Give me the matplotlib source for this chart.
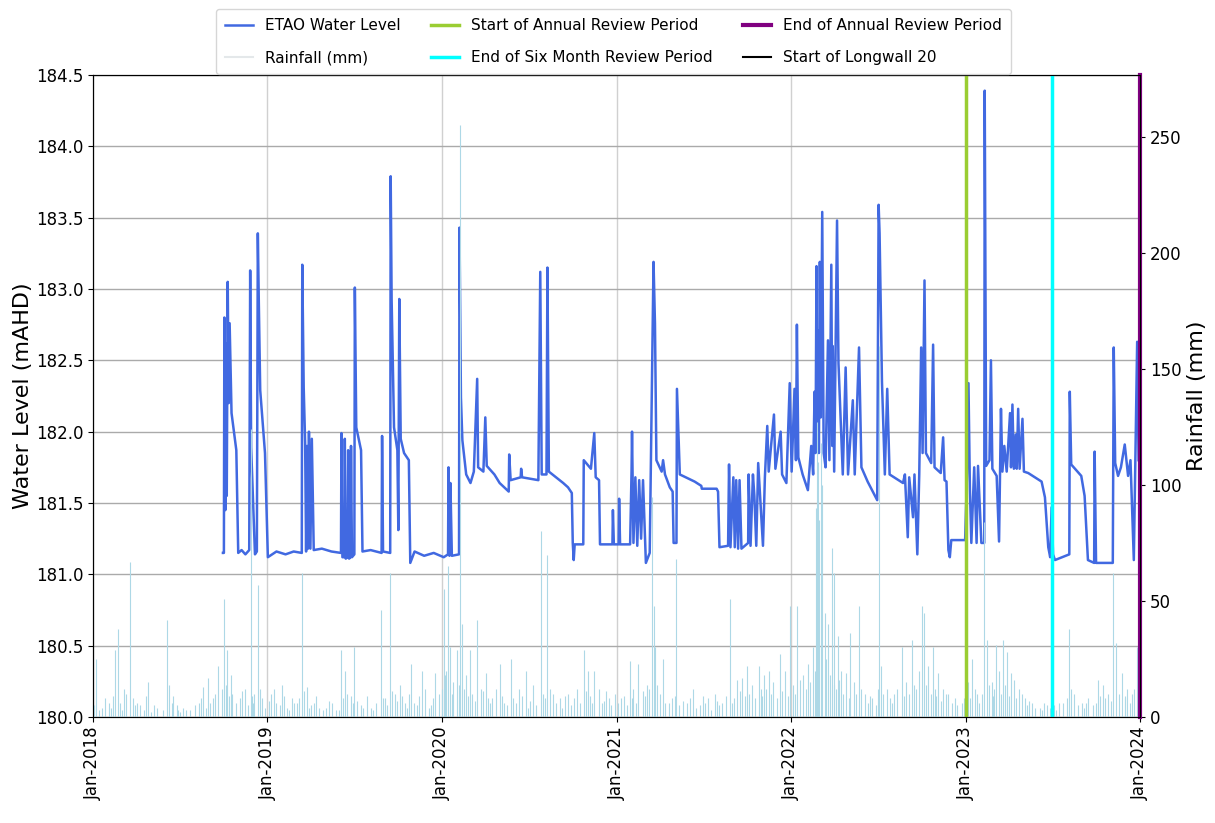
import numpy as np
import pandas as pd
import matplotlib
matplotlib.use('Agg')
import matplotlib.pyplot as plt
import matplotlib.dates as mdates

# Water level readings (date, mAHD)
level_dates = [
    '2018-09-30', '2018-10-02', '2018-10-03', '2018-10-05', '2018-10-07', '2018-10-08', '2018-10-10',
    '2018-10-12', '2018-10-14', '2018-10-18', '2018-10-28', '2018-11-01', '2018-11-08', '2018-11-16',
    '2018-11-24', '2018-11-26', '2018-11-28', '2018-12-06', '2018-12-10', '2018-12-12', '2018-12-14',
    '2018-12-17', '2018-12-27', '2019-01-02', '2019-01-20', '2019-02-08', '2019-02-25', '2019-03-14',
    '2019-03-15', '2019-03-18', '2019-03-21', '2019-03-23', '2019-03-25', '2019-03-27', '2019-03-29',
    '2019-04-01', '2019-04-04', '2019-04-08', '2019-04-25', '2019-05-15', '2019-06-04', '2019-06-05',
    '2019-06-07', '2019-06-11', '2019-06-12', '2019-06-14', '2019-06-18', '2019-06-19', '2019-06-21',
    '2019-06-24', '2019-06-25', '2019-06-27', '2019-07-02', '2019-07-03', '2019-07-06', '2019-07-16',
    '2019-07-19', '2019-08-05', '2019-08-28', '2019-08-29', '2019-08-31', '2019-09-15', '2019-09-16',
    '2019-09-18', '2019-09-23', '2019-09-30', '2019-10-02', '2019-10-04', '2019-10-07', '2019-10-14',
    '2019-10-24', '2019-10-27', '2019-11-05', '2019-11-25', '2019-12-15', '2020-01-05', '2020-01-14',
    '2020-01-15', '2020-01-17', '2020-01-19', '2020-01-22', '2020-02-06', '2020-02-07', '2020-02-10',
    '2020-02-13', '2020-02-21', '2020-03-01', '2020-03-08', '2020-03-15', '2020-03-17', '2020-03-28',
    '2020-04-01', '2020-04-04', '2020-04-20', '2020-05-01', '2020-05-20', '2020-05-21', '2020-05-24',
    '2020-06-14', '2020-06-15', '2020-06-17', '2020-07-21', '2020-07-25', '2020-07-28', '2020-08-07',
    '2020-08-09', '2020-08-12', '2020-09-11', '2020-09-21', '2020-09-29', '2020-10-01', '2020-10-03',
    '2020-10-05', '2020-10-23', '2020-10-24', '2020-11-08', '2020-11-15', '2020-11-18', '2020-11-25',
    '2020-11-27', '2020-12-23', '2020-12-24', '2020-12-26', '2021-01-05', '2021-01-06', '2021-01-08',
    '2021-01-29', '2021-02-01', '2021-02-02', '2021-02-05', '2021-02-09', '2021-02-13', '2021-02-17',
    '2021-02-21', '2021-02-25', '2021-03-03', '2021-03-11', '2021-03-19', '2021-03-22', '2021-03-25',
    '2021-04-05', '2021-04-08', '2021-04-12', '2021-04-22', '2021-04-28', '2021-04-30', '2021-05-06',
    '2021-05-07', '2021-05-13', '2021-06-13', '2021-06-27', '2021-06-28', '2021-07-29', '2021-08-01',
    '2021-08-04', '2021-08-22', '2021-08-24', '2021-08-27', '2021-09-02', '2021-09-05', '2021-09-08',
    '2021-09-12', '2021-09-15', '2021-09-19', '2021-10-03', '2021-10-04', '2021-10-08', '2021-10-13',
    '2021-10-16', '2021-10-20', '2021-10-24', '2021-11-03', '2021-11-07', '2021-11-12', '2021-11-15',
    '2021-11-26', '2021-11-29', '2021-12-10', '2021-12-13', '2021-12-22', '2021-12-29', '2022-01-02',
    '2022-01-08', '2022-01-11', '2022-01-13', '2022-01-16', '2022-01-25', '2022-02-05', '2022-02-12',
    '2022-02-16', '2022-02-19', '2022-02-21', '2022-02-23', '2022-02-25', '2022-02-26', '2022-02-28',
    '2022-03-02', '2022-03-04', '2022-03-07', '2022-03-10', '2022-03-14', '2022-03-19', '2022-03-22',
    '2022-03-26', '2022-03-28', '2022-03-29', '2022-04-01', '2022-04-07', '2022-04-10', '2022-04-19',
    '2022-04-25', '2022-04-30', '2022-05-10', '2022-05-14', '2022-05-23', '2022-05-28', '2022-06-10',
    '2022-06-30', '2022-07-03', '2022-07-05', '2022-07-10', '2022-07-16', '2022-07-21', '2022-07-26',
    '2022-08-23', '2022-08-27', '2022-09-02', '2022-09-05', '2022-09-13', '2022-09-16', '2022-09-22',
    '2022-09-26', '2022-09-30', '2022-10-03', '2022-10-07', '2022-10-10', '2022-10-21', '2022-10-25',
    '2022-10-28', '2022-11-10', '2022-11-15', '2022-11-18', '2022-11-22', '2022-11-26', '2022-11-29',
    '2022-12-02', '2022-12-31', '2023-01-04', '2023-01-07', '2023-01-10', '2023-01-13', '2023-01-19',
    '2023-01-24', '2023-01-27', '2023-02-03', '2023-02-09', '2023-02-10', '2023-02-13', '2023-02-20',
    '2023-02-23', '2023-02-26', '2023-03-07', '2023-03-12', '2023-03-16', '2023-03-19', '2023-03-23',
    '2023-03-28', '2023-04-04', '2023-04-06', '2023-04-09', '2023-04-12', '2023-04-16', '2023-04-18',
    '2023-04-21', '2023-04-24', '2023-04-30', '2023-05-03', '2023-05-12', '2023-06-09', '2023-06-16',
    '2023-06-23', '2023-06-27', '2023-06-30', '2023-07-03', '2023-07-07', '2023-08-06', '2023-08-07',
    '2023-08-10', '2023-08-31', '2023-09-07', '2023-09-14', '2023-09-27', '2023-09-28', '2023-10-01',
    '2023-11-05', '2023-11-07', '2023-11-10', '2023-11-16', '2023-11-22', '2023-11-30', '2023-12-07',
    '2023-12-12', '2023-12-19', '2023-12-22', '2023-12-26', '2023-12-29',
]
level_values = [
    181.15, 181.15, 182.80, 181.45, 182.62, 181.55, 183.05,
    182.20, 182.76, 182.13, 181.87, 181.15, 181.17, 181.14,
    181.17, 183.13, 181.89, 181.14, 181.16, 183.39, 182.92,
    182.29, 181.85, 181.12, 181.16, 181.14, 181.16, 181.15,
    183.17, 182.31, 181.92, 181.16, 181.90, 181.18, 182.00,
    181.18, 181.95, 181.17, 181.18, 181.16, 181.15, 181.99,
    181.12, 181.12, 181.95, 181.11, 181.12, 181.87, 181.11,
    181.12, 181.90, 181.12, 181.14, 183.01, 182.03, 181.87,
    181.16, 181.17, 181.15, 181.97, 181.16, 181.15, 183.79,
    182.92, 182.03, 181.87, 181.31, 182.93, 181.95, 181.85,
    181.80, 181.08, 181.16, 181.13, 181.15, 181.12, 181.14,
    181.75, 181.13, 181.64, 181.13, 181.14, 183.43, 182.24,
    181.94, 181.70, 181.64, 181.72, 182.37, 181.75, 181.72,
    182.10, 181.76, 181.70, 181.64, 181.58, 181.84, 181.66,
    181.68, 181.74, 181.68, 181.66, 183.12, 181.70, 181.70,
    183.15, 181.72, 181.64, 181.61, 181.57, 181.22, 181.10,
    181.21, 181.21, 181.80, 181.74, 181.99, 181.68, 181.66,
    181.21, 181.21, 181.45, 181.21, 181.21, 181.53, 181.21,
    181.21, 181.72, 182.00, 181.22, 181.68, 181.20, 181.66,
    181.25, 181.66, 181.08, 181.15, 183.19, 182.76, 181.80,
    181.72, 181.80, 181.70, 181.61, 181.58, 181.22, 181.22,
    182.30, 181.70, 181.65, 181.62, 181.60, 181.60, 181.58,
    181.19, 181.20, 181.77, 181.19, 181.68, 181.19, 181.66,
    181.18, 181.66, 181.18, 181.22, 181.70, 181.20, 181.70,
    181.55, 181.20, 181.78, 181.20, 181.68, 182.04, 181.72,
    182.12, 181.74, 182.00, 181.70, 181.64, 182.34, 181.72,
    182.30, 181.80, 182.75, 181.82, 181.70, 181.59, 181.90,
    181.70, 182.28, 181.85, 183.16, 182.00, 182.71, 181.85,
    183.19, 182.10, 183.54, 181.85, 181.75, 182.64, 181.80,
    183.17, 181.90, 182.60, 181.72, 183.48, 182.48, 181.70,
    182.45, 181.70, 182.22, 181.70, 182.59, 181.75, 181.65,
    181.52, 183.59, 183.39, 182.35, 181.70, 182.30, 181.70,
    181.64, 181.70, 181.26, 181.68, 181.40, 181.70, 181.14,
    181.70, 182.59, 181.85, 183.06, 181.85, 181.78, 182.61,
    181.75, 181.71, 181.96, 181.66, 181.65, 181.17, 181.12,
    181.24, 181.24, 181.71, 182.34, 181.60, 181.22, 181.75,
    181.22, 181.76, 181.22, 181.22, 184.39, 181.76, 181.80,
    182.50, 181.74, 181.69, 181.23, 182.16, 181.72, 181.90,
    181.72, 182.13, 181.75, 182.19, 181.74, 181.98, 181.74,
    182.16, 181.74, 182.09, 181.72, 181.71, 181.65, 181.54,
    181.19, 181.12, 181.47, 181.14, 181.10, 181.14, 182.28,
    181.77, 181.69, 181.55, 181.10, 181.08, 181.86, 181.08,
    181.08, 182.59, 181.78, 181.69, 181.75, 181.91, 181.69,
    181.80, 181.10, 181.75, 182.63, 181.80,
]

# Daily rainfall, larger events (date, mm)
rain_dates = [
    '2018-01-07', '2018-01-20', '2018-02-03', '2018-02-16', '2018-02-23', '2018-03-06', '2018-03-19',
    '2018-03-25', '2018-04-10', '2018-04-26', '2018-05-15', '2018-06-04', '2018-06-10', '2018-06-25',
    '2018-07-15', '2018-08-10', '2018-08-20', '2018-08-29', '2018-09-10', '2018-09-20', '2018-10-02',
    '2018-10-06', '2018-10-09', '2018-10-20', '2018-11-05', '2018-11-15', '2018-11-27', '2018-12-05',
    '2018-12-12', '2018-12-20',
    '2019-01-08', '2019-01-20', '2019-02-01', '2019-02-12', '2019-02-22', '2019-03-05', '2019-03-14',
    '2019-03-25', '2019-04-08', '2019-04-20', '2019-05-10', '2019-05-25', '2019-06-04', '2019-06-12',
    '2019-06-25', '2019-07-02', '2019-07-15', '2019-08-05', '2019-08-26', '2019-09-05', '2019-09-15',
    '2019-09-25', '2019-10-05', '2019-10-15', '2019-10-28', '2019-11-10', '2019-11-20', '2019-12-05',
    '2019-12-18',
    '2020-01-05', '2020-01-10', '2020-01-14', '2020-01-18', '2020-01-25', '2020-02-02', '2020-02-09',
    '2020-02-12', '2020-02-20', '2020-03-01', '2020-03-15', '2020-03-22', '2020-04-02', '2020-04-15',
    '2020-05-01', '2020-05-10', '2020-05-25', '2020-06-10', '2020-06-25', '2020-07-10', '2020-07-26',
    '2020-08-09', '2020-08-20', '2020-09-05', '2020-09-20', '2020-10-10', '2020-10-24', '2020-11-01',
    '2020-11-15', '2020-12-01', '2020-12-15', '2020-12-28',
    '2021-01-10', '2021-01-28', '2021-02-05', '2021-02-15', '2021-03-05', '2021-03-16', '2021-03-19',
    '2021-03-23', '2021-04-08', '2021-04-20', '2021-05-06', '2021-05-20', '2021-06-10', '2021-06-25',
    '2021-07-10', '2021-07-25', '2021-08-10', '2021-08-25', '2021-09-10', '2021-09-20', '2021-10-01',
    '2021-10-12', '2021-10-25', '2021-11-05', '2021-11-15', '2021-11-25', '2021-12-08', '2021-12-20',
    '2021-12-30',
    '2022-01-14', '2022-01-25', '2022-02-05', '2022-02-15', '2022-02-22', '2022-02-24', '2022-02-27',
    '2022-03-01', '2022-03-04', '2022-03-07', '2022-03-12', '2022-03-20', '2022-03-28', '2022-04-01',
    '2022-04-08', '2022-04-15', '2022-04-25', '2022-05-05', '2022-05-12', '2022-05-22', '2022-06-05',
    '2022-06-20', '2022-07-04', '2022-07-08', '2022-07-20', '2022-08-05', '2022-08-20', '2022-08-30',
    '2022-09-10', '2022-09-25', '2022-10-01', '2022-10-06', '2022-10-15', '2022-10-25', '2022-11-05',
    '2022-11-15', '2022-11-25', '2022-12-10', '2022-12-25',
    '2023-01-05', '2023-01-15', '2023-01-25', '2023-02-09', '2023-02-15', '2023-02-25', '2023-03-05',
    '2023-03-12', '2023-03-20', '2023-03-28', '2023-04-05', '2023-04-12', '2023-04-22', '2023-05-05',
    '2023-05-20', '2023-06-05', '2023-06-20', '2023-07-15', '2023-08-05', '2023-08-15', '2023-09-01',
    '2023-09-15', '2023-10-05', '2023-10-15', '2023-10-25', '2023-11-06', '2023-11-12', '2023-11-25',
    '2023-12-05', '2023-12-15', '2023-12-25',
]
rain_mm = [
    25, 4, 6, 29, 38, 12, 67,
    8, 5, 15, 4, 42, 14, 5,
    3, 6, 13, 17, 8, 22, 51,
    14, 29, 10, 8, 12, 124, 10,
    57, 8,
    10, 6, 14, 4, 8, 6, 62,
    13, 6, 4, 7, 3, 29, 20,
    9, 30, 5, 4, 46, 8, 62,
    10, 14, 6, 23, 5, 20, 4,
    19,
    55, 20, 65, 30, 15, 29, 255,
    40, 18, 29, 42, 12, 19, 8,
    23, 6, 25, 12, 20, 14, 80,
    70, 10, 8, 10, 12, 29, 20,
    20, 6, 8, 10,
    8, 24, 12, 23, 14, 95, 48,
    30, 25, 6, 68, 7, 12, 5,
    8, 10, 6, 51, 16, 17, 22,
    14, 22, 18, 20, 15, 27, 20,
    48,
    48, 18, 23, 30, 90, 127, 110,
    85, 118, 100, 45, 40, 73, 62,
    35, 20, 19, 36, 15, 48, 10,
    8, 160, 22, 12, 10, 30, 15,
    33, 20, 48, 45, 22, 30, 19,
    12, 10, 8, 6,
    15, 25, 10, 84, 33, 15, 31,
    20, 33, 28, 19, 16, 12, 8,
    6, 4, 5, 6, 38, 10, 6,
    8, 16, 14, 10, 62, 32, 19,
    12, 10, 30,
]

# Daily rainfall, minor falls (date, mm)
minor_rain_dates = [
    '2018-01-03', '2018-01-14', '2018-01-27', '2018-02-08', '2018-02-11', '2018-02-27', '2018-03-02',
    '2018-03-12', '2018-03-29', '2018-04-04', '2018-04-17', '2018-04-21', '2018-05-03', '2018-05-08',
    '2018-05-27', '2018-06-15', '2018-06-18', '2018-06-29', '2018-07-03', '2018-07-09', '2018-07-24',
    '2018-08-02', '2018-08-15', '2018-08-25', '2018-09-03', '2018-09-14', '2018-09-27', '2018-10-13',
    '2018-10-16', '2018-10-27', '2018-11-09', '2018-11-21', '2018-11-30', '2018-12-02', '2018-12-16',
    '2018-12-28',
    '2019-01-04', '2019-01-14', '2019-01-27', '2019-02-05', '2019-02-16', '2019-02-26', '2019-03-09',
    '2019-03-18', '2019-03-30', '2019-04-02', '2019-04-13', '2019-04-27', '2019-05-04', '2019-05-17',
    '2019-05-30', '2019-06-08', '2019-06-16', '2019-06-29', '2019-07-07', '2019-07-21', '2019-07-28',
    '2019-08-10', '2019-08-17', '2019-08-30', '2019-09-09', '2019-09-19', '2019-09-29', '2019-10-09',
    '2019-10-20', '2019-10-24', '2019-11-03', '2019-11-14', '2019-11-26', '2019-12-09', '2019-12-13',
    '2019-12-26',
    '2020-01-02', '2020-01-07', '2020-01-22', '2020-02-05', '2020-02-16', '2020-02-25', '2020-03-05',
    '2020-03-10', '2020-03-27', '2020-04-06', '2020-04-10', '2020-04-24', '2020-05-05', '2020-05-16',
    '2020-05-29', '2020-06-04', '2020-06-16', '2020-06-29', '2020-07-04', '2020-07-16', '2020-07-31',
    '2020-08-03', '2020-08-14', '2020-08-27', '2020-09-09', '2020-09-14', '2020-09-27', '2020-10-04',
    '2020-10-17', '2020-10-29', '2020-11-06', '2020-11-10', '2020-11-24', '2020-12-05', '2020-12-09',
    '2020-12-21',
    '2021-01-04', '2021-01-17', '2021-01-23', '2021-02-02', '2021-02-10', '2021-02-24', '2021-03-02',
    '2021-03-10', '2021-03-27', '2021-04-02', '2021-04-13', '2021-04-27', '2021-05-02', '2021-05-12',
    '2021-05-27', '2021-06-03', '2021-06-16', '2021-06-30', '2021-07-04', '2021-07-17', '2021-07-30',
    '2021-08-03', '2021-08-17', '2021-08-30', '2021-09-03', '2021-09-15', '2021-09-27', '2021-10-05',
    '2021-10-18', '2021-10-29', '2021-11-01', '2021-11-10', '2021-11-20', '2021-12-02', '2021-12-13',
    '2021-12-25',
    '2022-01-05', '2022-01-09', '2022-01-19', '2022-02-01', '2022-02-10', '2022-02-19', '2022-03-15',
    '2022-03-24', '2022-03-31', '2022-04-04', '2022-04-12', '2022-04-20', '2022-05-02', '2022-05-16',
    '2022-05-27', '2022-06-10', '2022-06-14', '2022-06-27', '2022-07-01', '2022-07-13', '2022-07-27',
    '2022-08-01', '2022-08-10', '2022-08-25', '2022-09-04', '2022-09-15', '2022-09-20', '2022-10-10',
    '2022-10-20', '2022-10-29', '2022-11-01', '2022-11-10', '2022-11-20', '2022-12-04', '2022-12-15',
    '2022-12-29',
    '2023-01-10', '2023-01-20', '2023-01-30', '2023-02-04', '2023-02-20', '2023-02-28', '2023-03-02',
    '2023-03-16', '2023-03-24', '2023-04-01', '2023-04-17', '2023-04-28', '2023-05-10', '2023-05-14',
    '2023-05-27', '2023-06-10', '2023-06-14', '2023-06-27', '2023-07-05', '2023-07-10', '2023-07-24',
    '2023-08-01', '2023-08-10', '2023-08-24', '2023-09-05', '2023-09-10', '2023-09-25', '2023-10-01',
    '2023-10-10', '2023-10-20', '2023-11-02', '2023-11-18', '2023-11-30', '2023-12-01', '2023-12-10',
    '2023-12-20',
]
minor_rain_mm = [
    5, 3, 8, 4, 9, 6, 3,
    10, 5, 6, 3, 9, 2, 5,
    3, 6, 9, 3, 2, 4, 3,
    5, 8, 4, 6, 10, 12, 9,
    18, 6, 11, 5, 9, 6, 12,
    4,
    7, 12, 5, 9, 3, 6, 8,
    11, 4, 5, 9, 3, 4, 6,
    3, 8, 10, 6, 7, 4, 9,
    3, 6, 8, 5, 11, 7, 9,
    4, 10, 6, 9, 12, 5, 8,
    10,
    12, 18, 10, 14, 12, 9, 10,
    7, 11, 8, 6, 12, 9, 5,
    8, 6, 9, 4, 7, 5, 10,
    8, 12, 6, 4, 9, 5, 8,
    6, 11, 9, 6, 12, 7, 11,
    5,
    6, 9, 5, 8, 6, 11, 9,
    12, 14, 10, 6, 8, 9, 5,
    6, 8, 4, 9, 6, 3, 7,
    5, 9, 6, 8, 11, 9, 10,
    8, 12, 9, 12, 10, 8, 11,
    9,
    14, 10, 16, 12, 15, 20, 25,
    18, 14, 12, 16, 10, 8, 10,
    12, 6, 9, 5, 12, 10, 8,
    6, 12, 9, 10, 14, 12, 14,
    10, 12, 9, 7, 10, 6, 5,
    8,
    8, 12, 6, 10, 14, 9, 12,
    10, 14, 9, 8, 10, 5, 7,
    4, 3, 6, 4, 5, 3, 6,
    8, 12, 5, 4, 6, 5, 6,
    9, 8, 7, 10, 8, 9, 6,
    12,
]

# Reporting milestones
start_annual = '2023-01-01'
end_six_month = '2023-07-01'
end_annual = '2024-01-01'
start_longwall20 = '2024-01-01'

level_dates = pd.to_datetime(level_dates)
rain_dates = pd.to_datetime(rain_dates)
minor_rain_dates = pd.to_datetime(minor_rain_dates)

fig = plt.figure(figsize=(12.15, 8.23), dpi=100)
ax1 = fig.add_axes([0.0765, 0.1288, 0.8618, 0.7801])
ax2 = ax1.twinx()

# Water level on the left axis
wl, = ax1.plot(level_dates, level_values, color='royalblue', lw=1.8, label='ETAO Water Level')
ax1.set_ylim(180, 184.5)
ax1.set_yticks(np.arange(180, 184.51, 0.5))
ax1.set_ylabel('Water Level (mAHD)', fontsize=16, labelpad=2)
ax1.grid(axis='y', color='#aaaaaa', lw=1)
ax1.grid(axis='x', color='#d0d0d0', lw=1)

# Rainfall on the right axis
ax2.vlines(minor_rain_dates, 0, minor_rain_mm, color='lightblue', lw=0.8)
ax2.vlines(rain_dates, 0, rain_mm, color='lightblue', lw=0.8)
rn, = ax2.plot([], [], color='#e4e8ea', lw=1.5, label='Rainfall (mm)')
ax2.set_ylim(0, 276.7)
ax2.set_ylabel('Rainfall (mm)', fontsize=16)

# Review period markers
l1 = ax2.axvline(pd.Timestamp(start_annual), color='yellowgreen', lw=2.5, label='Start of Annual Review Period')
l2 = ax2.axvline(pd.Timestamp(end_six_month), color='cyan', lw=2.5, label='End of Six Month Review Period')
l4 = ax2.axvline(pd.Timestamp(start_longwall20), color='black', lw=1.5, label='Start of Longwall 20')
l3 = ax2.axvline(pd.Timestamp(end_annual), color='purple', lw=3, label='End of Annual Review Period', clip_on=False)

ax1.set_xlim(pd.Timestamp('2018-01-01'), pd.Timestamp('2024-01-01'))
ax1.xaxis.set_major_locator(mdates.YearLocator())
ax1.xaxis.set_major_formatter(mdates.DateFormatter('%b-%Y'))
plt.setp(ax1.get_xticklabels(), rotation=90)
ax1.tick_params(labelsize=12)
ax2.tick_params(labelsize=12)

fig.legend(handles=[wl, rn, l1, l2, l3, l4], loc='upper center', bbox_to_anchor=(0.505, 0.998),
           ncol=3, fontsize=11, frameon=True, labelspacing=1.1, borderpad=0.6, handlelength=1.8)

fig.savefig('out.png', dpi=100)
